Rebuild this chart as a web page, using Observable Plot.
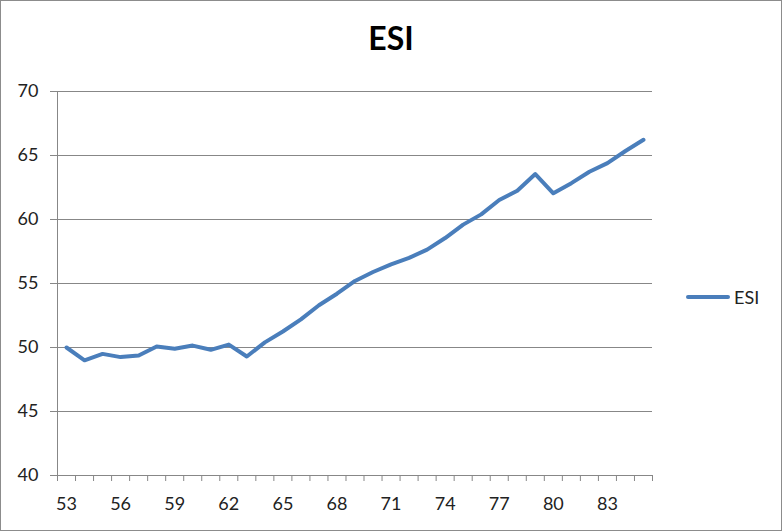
<!DOCTYPE html>
<html>
<head>
<meta charset="utf-8">
<script src="https://cdn.jsdelivr.net/npm/d3@7"></script>
<script src="https://cdn.jsdelivr.net/npm/@observablehq/plot@0.6"></script>
<style>
  html, body { margin: 0; padding: 0; background: #fff; }
  #wrap { position: relative; width: 782px; height: 531px; overflow: hidden; font-family: Lato, "Open Sans", sans-serif; }
  #border { position: absolute; left: 0; top: 0; width: 780px; height: 529px; border: 1px solid #8c8c8c; pointer-events: none; }
  #title { position: absolute; left: 0; width: 782px; top: 18px; text-align: center; font-size: 32px; font-weight: bold; color: #000; }
  #legend { position: absolute; left: 686px; top: 286px; display: flex; align-items: center; font-size: 18px; color: #222; }
  #legend .sw { width: 44px; height: 4px; background: #4A7EBB; border-radius: 2px; margin-right: 4px; }
  #chart { position: absolute; left: 0; top: 0; }
</style>
</head>
<body>
<div id="wrap">
  <div id="chart"></div>
  <div id="title">ESI</div>
  <div id="legend"><div class="sw"></div><span>ESI</span></div>
  <div id="border"></div>
</div>
<script>
const years = [53,54,55,56,57,58,59,60,61,62,63,64,65,66,67,68,69,70,71,72,73,74,75,76,77,78,79,80,81,82,83,84,85];
const esi = [50.0,49.0,49.5,49.25,49.37,50.08,49.9,50.15,49.82,50.23,49.3,50.4,51.25,52.2,53.3,54.2,55.2,55.9,56.5,57.0,57.65,58.55,59.6,60.4,61.52,62.25,63.55,62.05,62.84,63.73,64.4,65.35,66.23];
const xLabelTicks = [53,56,59,62,65,68,71,74,77,80,83];
const yTicks = [40,45,50,55,60,65,70];
const seriesName = "ESI";

const data = years.map((y, i) => ({year: y, value: esi[i]}));
const catEdges = d3.range(years[0] - 0.5, years[years.length - 1] + 1, 1);

const chart = Plot.plot({
  width: 782,
  height: 531,
  marginLeft: 57,
  marginRight: 130,
  marginTop: 91,
  marginBottom: 56,
  style: {fontFamily: "Lato, 'Open Sans', sans-serif", fontSize: "18px", color: "#222", background: "transparent"},
  x: {type: "linear", domain: [years[0] - 0.5, years[years.length - 1] + 0.5]},
  y: {domain: [40, 70]},
  marks: [
    Plot.gridY(yTicks, {stroke: "#878787", strokeOpacity: 1, strokeWidth: 1}),
    Plot.axisY({ticks: yTicks, tickSize: 7, tickPadding: 12, stroke: "#878787", strokeOpacity: 1, fill: "#222", label: null, fontSize: 18}),
    Plot.ruleX([years[0] - 0.5], {stroke: "#878787", strokeWidth: 1}),
    Plot.ruleY([40], {stroke: "#878787", strokeWidth: 1}),
    Plot.axisX({ticks: catEdges, tickSize: 6, tickFormat: () => "", stroke: "#878787", strokeOpacity: 1, label: null}),
    Plot.axisX({ticks: xLabelTicks, tickSize: 0, tickPadding: 22, fill: "#222", label: null, fontSize: 18}),
    Plot.line(data, {x: "year", y: "value", stroke: "#4A7EBB", strokeWidth: 4, strokeLinejoin: "round", strokeLinecap: "round"})
  ]
});
document.getElementById("chart").appendChild(chart);
</script>
</body>
</html>
